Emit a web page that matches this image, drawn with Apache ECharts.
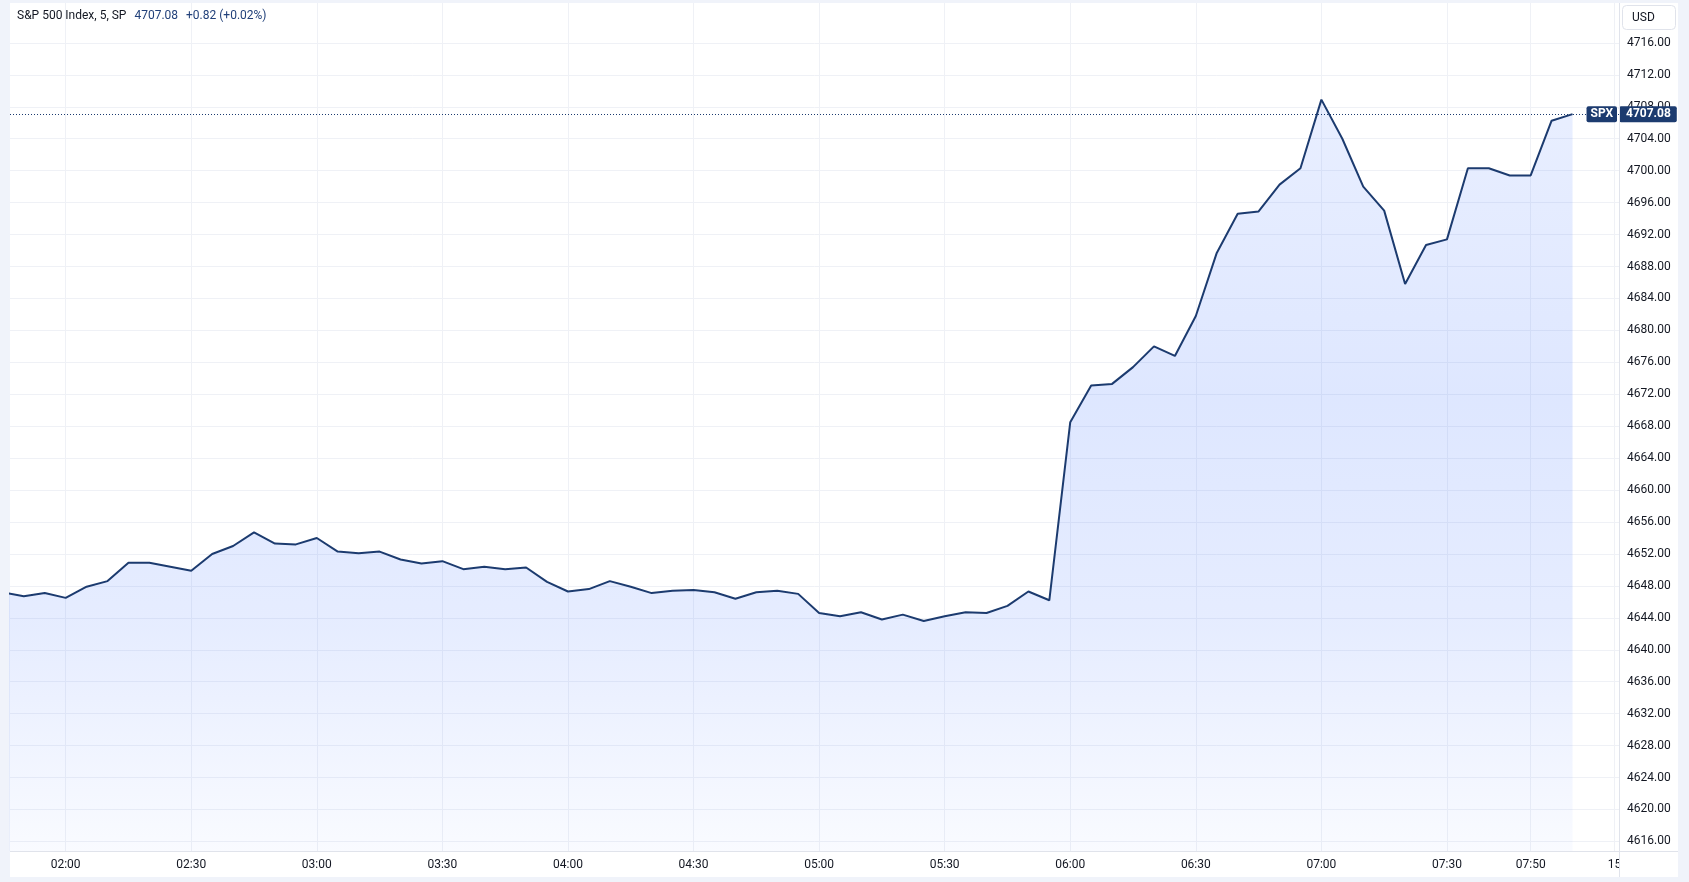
<!DOCTYPE html>
<html>
<head>
<meta charset="utf-8">
<script src="https://cdn.jsdelivr.net/npm/echarts@6/dist/echarts.min.js"></script>
<style>
html,body{margin:0;padding:0;background:#f0f3fa;}
#c{width:1689px;height:882px;}
</style>
</head>
<body>
<div id="c"></div>
<script>
// ---- data ----
const seriesName = 'S&P 500 Index, 5, SP';
const symbolName = 'SPX';
const currency = 'USD';
const times = [
  '01:45','01:50','01:55','02:00','02:05','02:10','02:15','02:20','02:25','02:30','02:35','02:40','02:45','02:50','02:55',
  '03:00','03:05','03:10','03:15','03:20','03:25','03:30','03:35','03:40','03:45','03:50','03:55',
  '04:00','04:05','04:10','04:15','04:20','04:25','04:30','04:35','04:40','04:45','04:50','04:55',
  '05:00','05:05','05:10','05:15','05:20','05:25','05:30','05:35','05:40','05:45','05:50','05:55',
  '06:00','06:05','06:10','06:15','06:20','06:25','06:30','06:35','06:40','06:45','06:50','06:55',
  '07:00','07:05','07:10','07:15','07:20','07:25','07:30','07:35','07:40','07:45','07:50','07:55','08:00'
];
const values = [
  4647.2,4646.7,4647.1,4646.5,4647.9,4648.6,4650.9,4650.9,4650.4,4649.9,4652.0,4653.0,4654.7,4653.3,4653.2,
  4654.0,4652.3,4652.1,4652.3,4651.3,4650.8,4651.1,4650.1,4650.4,4650.1,4650.3,4648.5,
  4647.3,4647.6,4648.6,4647.9,4647.1,4647.4,4647.5,4647.2,4646.4,4647.2,4647.4,4647.0,
  4644.6,4644.2,4644.7,4643.8,4644.4,4643.6,4644.2,4644.7,4644.6,4645.5,4647.3,4646.2,
  4668.5,4673.1,4673.3,4675.4,4678.0,4676.8,4681.8,4689.7,4694.6,4694.9,4698.25,4700.3,
  4708.9,4704.0,4698.0,4695.0,4685.8,4690.7,4691.4,4700.3,4700.3,4699.4,4699.4,4706.26,4707.08
];
const xTickTimes  = ['02:00','02:30','03:00','03:30','04:00','04:30','05:00','05:30','06:00','06:30','07:00','07:30','07:50','08:10'];
const xTickLabels = ['02:00','02:30','03:00','03:30','04:00','04:30','05:00','05:30','06:00','06:30','07:00','07:30','07:50','15'];
const yTicks = [4616,4620,4624,4628,4632,4636,4640,4644,4648,4652,4656,4660,4664,4668,4672,4676,4680,4684,4688,4692,4696,4700,4704,4708,4712,4716];

// ---- helpers ----
const toMin = s => { const p = s.split(':'); return (+p[0]) * 60 + (+p[1]); };
const points = times.map((t, i) => [toMin(t), values[i]]);
const xTickVals = xTickTimes.map(toMin);
const labelMap = {};
xTickVals.forEach((v, i) => { labelMap[v] = xTickLabels[i]; });
const last = values[values.length - 1];
const prev = values[values.length - 2];
const chg = last - prev;
const pct = chg / prev * 100;
const sg = v => (v >= 0 ? '+' : '') + v.toFixed(2);

const NAVY = '#1c3b6f';
const FONT = 'Roboto';
const GRID_LINE = '#eff1f6';
const BORDER = '#e0e3eb';

const chart = echarts.init(document.getElementById('c'), null, {renderer: 'canvas'});
chart.setOption({
  backgroundColor: '#f0f3fa',
  animation: false,
  textStyle: {fontFamily: FONT},
  title: {
    left: 17, top: 10, padding: 0,
    text: seriesName + '{v|' + last.toFixed(2) + '}{c|' + sg(chg) + ' (' + sg(pct) + '%)}',
    textStyle: {
      fontFamily: FONT, fontSize: 12, fontWeight: 'normal', color: '#131722',
      rich: {
        v: {fontFamily: FONT, fontSize: 12, color: '#22417a', padding: [0, 0, 0, 8]},
        c: {fontFamily: FONT, fontSize: 12, color: '#22417a', padding: [0, 0, 0, 8]}
      }
    }
  },
  grid: {left: 10, top: 3, right: 70, bottom: 31, containLabel: false},
  xAxis: {
    type: 'value',
    min: 106.7, max: 491.1,
    axisLine: {show: false},
    axisTick: {show: false, customValues: xTickVals},
    axisLabel: {
      customValues: xTickVals,
      formatter: v => labelMap[v] || '',
      color: '#131722', fontFamily: FONT, fontSize: 12, margin: 8,
      showMinLabel: true, showMaxLabel: true
    },
    splitLine: {show: true, lineStyle: {color: GRID_LINE, width: 1}}
  },
  yAxis: {
    type: 'value',
    position: 'right',
    min: 4614.8, max: 4721,
    axisLine: {show: false},
    axisTick: {show: false, customValues: yTicks},
    axisLabel: {
      customValues: yTicks,
      formatter: v => v.toFixed(2),
      color: '#131722', fontFamily: FONT, fontSize: 12, margin: 8,
      showMinLabel: true, showMaxLabel: true
    },
    splitLine: {show: true, lineStyle: {color: GRID_LINE, width: 1}}
  },
  graphic: [
    {type: 'rect', z: -100, shape: {x: 10, y: 3, width: 1668, height: 874}, style: {fill: '#ffffff'}},
    {type: 'rect', z: 100, shape: {x: 1620, y: 852, width: 58, height: 25}, style: {fill: '#ffffff'}},
    {type: 'line', z: 101, shape: {x1: 10, y1: 851.5, x2: 1678, y2: 851.5}, style: {stroke: BORDER, lineWidth: 1}},
    {type: 'line', z: 101, shape: {x1: 1619.5, y1: 3, x2: 1619.5, y2: 877}, style: {stroke: BORDER, lineWidth: 1}},
    {type: 'rect', z: 101, shape: {x: 1622.5, y: 5.5, width: 53, height: 24, r: 4}, style: {fill: '#ffffff', stroke: BORDER, lineWidth: 1}},
    {type: 'text', z: 102, style: {x: 1632, y: 18, text: currency, fill: '#131722', font: '12px Roboto', textVerticalAlign: 'middle'}}
  ],
  series: [{
    type: 'line',
    data: points,
    showSymbol: false,
    symbol: 'none',
    clip: true,
    lineStyle: {color: NAVY, width: 2},
    areaStyle: {
      color: new echarts.graphic.LinearGradient(0, 0, 0, 1, [
        {offset: 0, color: 'rgba(41,98,255,0.15)'},
        {offset: 0.4, color: 'rgba(41,98,255,0.22)'},
        {offset: 0.7, color: 'rgba(41,98,255,0.17)'},
        {offset: 1, color: 'rgba(41,98,255,0.04)'}
      ])
    },
    markLine: {
      silent: true,
      symbol: 'none',
      animation: false,
      data: [
        {
          yAxis: last,
          lineStyle: {color: NAVY, width: 1, type: [1, 2]},
          label: {
            show: true, position: 'end', distance: 0,
            formatter: () => last.toFixed(2),
            color: '#ffffff', fontFamily: FONT, fontSize: 12, fontWeight: 'bold',
            backgroundColor: NAVY, padding: [2, 6, 1, 7], borderRadius: 2, lineHeight: 13
          }
        },
        {
          yAxis: last,
          lineStyle: {color: 'rgba(0,0,0,0)', width: 1},
          label: {
            show: true, position: 'insideEnd', distance: 2,
            formatter: () => symbolName,
            color: '#ffffff', fontFamily: FONT, fontSize: 12, fontWeight: 'bold',
            backgroundColor: NAVY, padding: [2, 4, 1, 4], borderRadius: 2, lineHeight: 13
          }
        }
      ]
    }
  }]
});
</script>
</body>
</html>
